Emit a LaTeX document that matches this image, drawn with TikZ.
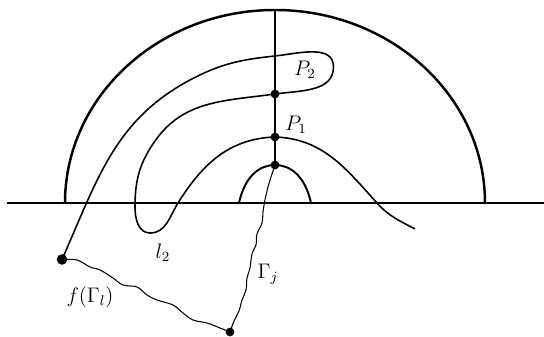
\documentclass[tikz,border=0pt]{standalone}
\usetikzlibrary{calc}

\begin{document}
\begin{tikzpicture}[scale=1, transform shape]
    % Define radii of the half discs
    \def\bigRx{4.2}
    \def\bigRy{3.86}
    \def\smallRx{0.72}
    \def\smallRy{0.76}

    \definecolor{lineColour}{HTML}{000000}

    \tikzset{
        dot/.style={circle, fill=lineColour, inner sep=0pt, minimum size=5pt},
        curvelabel/.style={font=\large, inner sep=1pt}
    }

    % Fix the frame
    \useasboundingbox (-5.5,-2.68) rectangle (5.38,4.06);

    % Define the centre and the ends of the axis
    \coordinate (center) at (0,0);
    \coordinate (axisL) at (-5.36,0);
    \coordinate (axisR) at (5.38,0);

    % Draw the real axis
    \draw[line width=1.1pt, draw=lineColour] (axisL) -- (axisR);

    % Draw the two half circles
    \draw[line width=1.4pt] (-\bigRx,0) arc[start angle=180, end angle=0, x radius=\bigRx, y radius=\bigRy];
    \draw[line width=1.1pt] (-\smallRx,0) .. controls (-0.6,0.55) and (-0.3,\smallRy) .. (0,\smallRy)
        .. controls (0.3,\smallRy) and (0.6,0.55) .. (\smallRx,0);

    % Define the points on the vertical segment
    \coordinate (top) at (0,\bigRy);
    \node[dot] (P2dot) at (0,2.18) {};
    \node[dot] (P1dot) at (0,1.32) {};
    \node[dot] (Qdot) at (0,\smallRy) {};

    % Draw the vertical segment
    \draw[line width=0.6pt] (Qdot.center) -- (top);

    % Define the ends of the paths below the axis
    \node[dot, minimum size=6pt] (Adot) at (-4.26,-1.13) {};
    \node[dot, minimum size=5pt] (Bdot) at (-0.90,-2.58) {};

    % Define the turning points of l_2
    \coordinate (l2a) at (-1.70,2.46);
    \coordinate (l2b) at (0,2.94);
    \coordinate (l2tip) at (1.17,2.72);
    \coordinate (l2c) at (-2.40,1.24);
    \coordinate (l2d) at (-2.80,-0.08);
    \coordinate (l2low) at (-2.50,-0.60);
    \coordinate (l2e) at (-1.94,0);
    \coordinate (l2f) at (2.04,0);
    \coordinate (l2end) at (2.80,-0.52);

    % Draw the curve l_2
    \draw[line width=0.9pt] (Adot.center) to[out=66, in=208] (l2a)
        to[out=28, in=186] (l2b)
        to[out=6, in=90] (l2tip)
        to[out=-90, in=8] (P2dot.center)
        to[out=188, in=55] (l2c)
        to[out=235, in=90] (l2d)
        to[out=-90, in=180] (l2low)
        to[out=0, in=238] (l2e)
        to[out=58, in=182] (P1dot.center)
        to[out=-2, in=132] (l2f)
        to[out=-48, in=152] (l2end);

    % Draw the wavy path Gamma_j
    \draw[line width=0.6pt] plot[smooth, tension=0.6] coordinates {
        (Qdot.center) (-0.08,0.52) (-0.14,0.32) (-0.20,0.06) (-0.24,-0.18)
        (-0.26,-0.40) (-0.36,-0.62) (-0.38,-0.84) (-0.46,-1.02) (-0.50,-1.30)
        (-0.56,-1.50) (-0.58,-1.74) (-0.66,-1.94) (-0.72,-2.16) (-0.82,-2.36)
        (Bdot.center)};

    % Draw the wavy path f(Gamma_l)
    \draw[line width=0.6pt] plot[smooth, tension=0.6] coordinates {
        (Adot.center) (-3.96,-1.14) (-3.70,-1.28) (-3.50,-1.34) (-3.24,-1.50)
        (-3.04,-1.64) (-2.76,-1.68) (-2.56,-1.84) (-2.36,-1.94) (-2.04,-2.04)
        (-1.84,-2.20) (-1.64,-2.34) (-1.36,-2.40) (-1.10,-2.50) (Bdot.center)};

    % Label the points and paths
    \node[curvelabel] (P2lab) at (0.60,2.66) {$P_2$};
    \node[curvelabel] (P1lab) at (0.42,1.56) {$P_1$};
    \node[curvelabel] (l2lab) at (-2.24,-1.00) {$l_2$};
    \node[curvelabel] (Gjlab) at (-0.14,-1.42) {$\Gamma_j$};
    \node[curvelabel] (fGlab) at (-3.70,-1.88) {$f(\Gamma_l)$};

\end{tikzpicture}
\end{document}
